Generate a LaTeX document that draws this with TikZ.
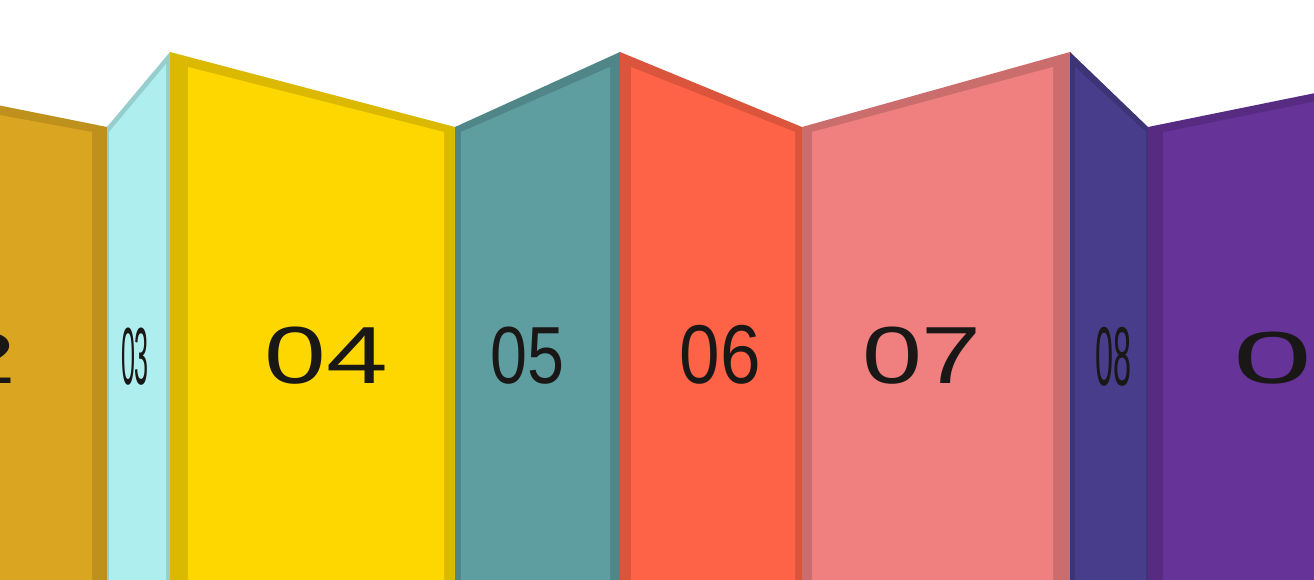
\documentclass[tikz,border=0pt]{standalone}
\usepackage{fontspec}
\setmainfont{Liberation Sans}
\definecolor{f2}{HTML}{DAA520}
\definecolor{f3}{HTML}{AFEEEE}
\definecolor{f4}{HTML}{FFD700}
\definecolor{f5}{HTML}{5F9EA0}
\definecolor{f6}{HTML}{FF6347}
\definecolor{f7}{HTML}{F08080}
\definecolor{f8}{HTML}{483D8B}
\definecolor{f9}{HTML}{663399}
\definecolor{txt}{RGB}{26,24,22}
\tikzset{
  num/.style={font=\fontsize{81}{81}\selectfont, text=txt, inner sep=0pt},
}
\begin{document}
\begin{tikzpicture}[x=1pt,y=-1pt]
\useasboundingbox (0,0) rectangle (1314,579);
\clip (0,0) rectangle (1314,579);
\fill[white] (0,0) rectangle (1314,579);
% panel 2
\fill[f2!87!black] (-100,85.5) -- (107,127) -- (107,600) -- (-100,600) -- cycle;
\fill[f2] (-100,96.5) -- (92,132) -- (92,600) -- (-100,600) -- cycle;
% panel 3
\fill[f3!86!black] (107,127) -- (170,52) -- (170,600) -- (107,600) -- cycle;
\fill[f3] (109,132) -- (166,64) -- (166,600) -- (109,600) -- cycle;
% panel 4
\fill[f4!86!black] (170,52) -- (455,127) -- (455,600) -- (170,600) -- cycle;
\fill[f4] (188,67) -- (444,132) -- (444,600) -- (188,600) -- cycle;
% panel 5
\fill[f5!85!black] (455,127) -- (620,52) -- (620,600) -- (455,600) -- cycle;
\fill[f5] (461,132) -- (610,67) -- (610,600) -- (461,600) -- cycle;
% panel 6
\fill[f6!86!black] (620,52) -- (802,127) -- (802,600) -- (620,600) -- cycle;
\fill[f6] (631,67) -- (795,132) -- (795,600) -- (631,600) -- cycle;
% panel 7
\fill[f7!85!black] (802,127) -- (1070,52) -- (1070,600) -- (802,600) -- cycle;
\fill[f7] (812,132) -- (1053,67) -- (1053,600) -- (812,600) -- cycle;
% panel 8
\fill[f8!85!black] (1070,52) -- (1148,127) -- (1148,600) -- (1070,600) -- cycle;
\fill[f8] (1075,67) -- (1146,132) -- (1146,600) -- (1075,600) -- cycle;
% panel 9
\fill[f9!85!black] (1148,127) -- (1500,55.5) -- (1500,600) -- (1148,600) -- cycle;
\fill[f9] (1163,132.3) -- (1500,63.9) -- (1500,600) -- (1163,600) -- cycle;
% labels
\node[num] (t2) at (-50,358) {\scalebox{1.5}[0.9]{02}};
\node[num] (t3) at (135,357) {\scalebox{0.31}[1]{03}};
\node[num] (t4) at (326.5,356) {\scalebox{1.37}[1]{04}};
\node[num] (t5) at (527.5,356) {\scalebox{0.82}[1]{05}};
\node[num] (t6) at (720.5,355) {\scalebox{0.90}[1.03]{06}};
\node[num] (t7) at (922,356) {\scalebox{1.33}[1]{07}};
\node[num] (t8) at (1113.5,357) {\scalebox{0.40}[1.03]{08}};
\node[num] (t9) at (1312,358.5) {\scalebox{1.75}[0.91]{09}};
\end{tikzpicture}
\end{document}
